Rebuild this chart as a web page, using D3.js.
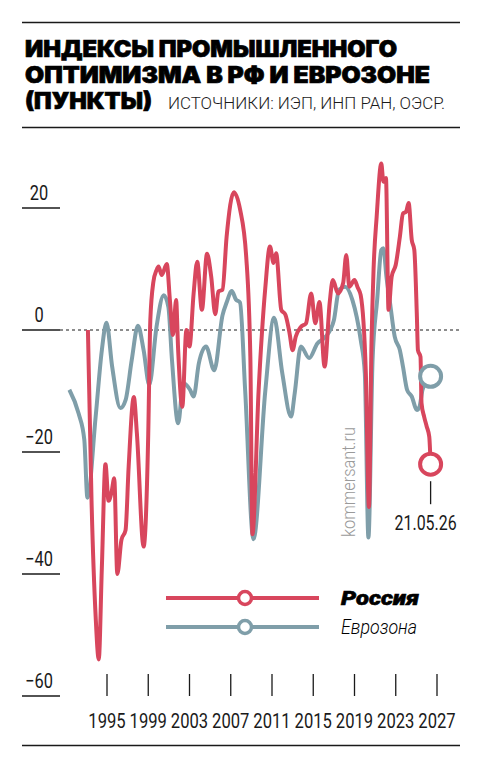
<!DOCTYPE html>
<html>
<head>
<meta charset="utf-8">
<script src="https://cdn.jsdelivr.net/npm/d3@7"></script>
<style>
  html, body { margin: 0; padding: 0; background: #fff; }
  svg { display: block; }
</style>
</head>
<body>
<script>
// [year, points]
var russia = [
  [1993.15, 0], [1993.5, -28], [1993.9, -47], [1994.2, -54], [1994.5, -39],
  [1994.85, -22], [1995.15, -28], [1995.45, -26.5], [1995.7, -24.3], [1996.0, -40],
  [1996.4, -34.4], [1996.8, -32.8], [1997.1, -22.4], [1997.6, -11], [1997.9, -17],
  [1998.55, -35.5], [1999.0, -17], [1999.2, 1.6], [1999.5, 7.9], [1999.8, 9.8],
  [2000.0, 10.4], [2000.3, 9], [2000.8, 10.8], [2001.1, 4.9], [2001.4, -0.8],
  [2001.7, 4.9], [2001.9, -3.3], [2002.3, -12.6], [2002.7, 0], [2003.0, -2.7],
  [2003.4, 6], [2003.75, 11.2], [2004.2, 3.3], [2004.7, 12.5], [2005.1, 8.8],
  [2005.5, 2.6], [2005.8, 6.3], [2006.2, 6.6], [2006.6, 15.3], [2007.3, 22.6],
  [2007.9, 19.8], [2008.5, 12], [2008.9, -4.4], [2009.1, -33.5], [2009.7, -10],
  [2010.35, 6.9], [2010.8, 13.7], [2011.15, 11], [2011.4, 12.6], [2011.9, 3.3],
  [2012.3, 2.5], [2012.7, -0.5], [2013.0, -3.3], [2013.3, -1.1], [2013.8, 0.5],
  [2014.3, 1.1], [2014.8, 6], [2015.2, 1.1], [2015.6, 4.6], [2016.1, -6],
  [2016.6, 4.6], [2016.9, 8.2], [2017.4, 6], [2017.9, 7.7], [2018.2, 12.3],
  [2018.5, 7.1], [2019.0, 8.2], [2019.3, 7], [2019.6, 5.7], [2020.1, -7.1],
  [2020.4, -29], [2020.65, -2], [2020.85, 10], [2021.15, 18.6], [2021.6, 27.3],
  [2021.8, 24.3], [2022.05, 24.9], [2022.3, 3.3], [2022.6, 8.7], [2023.0, 10.7],
  [2023.4, 15.3], [2023.7, 19.1], [2024.0, 19.4], [2024.25, 20.8], [2024.55, 14.8],
  [2024.8, 13.1], [2025.05, 2.2], [2025.15, -3.3], [2025.4, -4.4], [2025.5, -12],
  [2025.75, -14.2], [2026.0, -15.8], [2026.25, -17.5], [2026.38, -22]
];

var eurozone = [
  [1991.35, -9.8], [1992.25, -13.7], [1992.8, -18], [1993.1, -27.5], [1993.9, -14.2],
  [1994.5, -3.3], [1994.95, 1.2], [1995.5, -6], [1996.3, -12.8], [1996.8, -11.5],
  [1997.4, -4.9], [1998.0, 0.7], [1998.55, -3.3], [1999.1, -9], [1999.8, 0.5],
  [2000.5, 5.7], [2000.95, 3.8], [2001.3, -4.9], [2001.9, -15.3], [2002.4, -8.7],
  [2003.05, -9.8], [2003.4, -10.9], [2003.9, -5.5], [2004.6, -2.7], [2005.4, -6.6],
  [2006.2, 2.4], [2006.6, 4.5], [2007.1, 6.4], [2007.5, 5], [2007.9, 4.5],
  [2008.4, -10], [2009.2, -34.3], [2010.35, -10], [2011.2, 2], [2012.0, -7.1],
  [2012.85, -14.2], [2013.2, -10.4], [2013.8, -2.7], [2014.6, -4.6], [2015.4, -2.2],
  [2016.2, -1.1], [2017.0, 1.6], [2017.5, 6.6], [2018.1, 7.1], [2018.8, 4.9],
  [2019.6, -1.6], [2020.0, -7.1], [2020.35, -34], [2020.75, -5], [2021.2, 5],
  [2021.6, 13.1], [2021.8, 13.4], [2022.1, 8.7], [2022.45, 4.4], [2022.9, -1.1],
  [2023.4, -3.3], [2023.7, -6], [2024.1, -9.8], [2024.55, -10.9], [2025.05, -13.1],
  [2025.3, -12.6], [2025.6, -9.8], [2026.38, -7.6]
];

var yTicks = [20, 0, -20, -40, -60];
var xTicks = [1995, 1999, 2003, 2007, 2011, 2015, 2019, 2023, 2027];
var lastDate = "21.05.26";

var titleLines = ["ИНДЕКСЫ ПРОМЫШЛЕННОГО", "ОПТИМИЗМА В РФ И ЕВРОЗОНЕ", "(ПУНКТЫ)"];
var sourceText = "ИСТОЧНИКИ: ИЭП, ИНП РАН, ОЭСР.";
var legendNames = ["Россия", "Еврозона"];

var width = 482, height = 768;
var red = "#d8465d", blue = "#7f9ea9", ink = "#1a1a1a";
var narrow = "Roboto, 'Liberation Sans', sans-serif";

var svg = d3.select("body").append("svg")
  .attr("width", width)
  .attr("height", height);

// header
svg.append("line").attr("x1", 22).attr("x2", 460).attr("y1", 22.5).attr("y2", 22.5)
  .attr("stroke", ink).attr("stroke-width", 1.5);
svg.append("line").attr("x1", 22).attr("x2", 460).attr("y1", 127.5).attr("y2", 127.5)
  .attr("stroke", ink).attr("stroke-width", 1.5);

var titleWidths = [372, 405, 127];
svg.selectAll(".title")
  .data(titleLines)
  .enter().append("text")
  .attr("class", "title")
  .attr("x", 25)
  .attr("y", function (d, i) { return 57 + i * 26; })
  .attr("textLength", function (d, i) { return titleWidths[i]; })
  .attr("lengthAdjust", "spacingAndGlyphs")
  .style("font-family", "Inter, Roboto, 'Liberation Sans', sans-serif")
  .style("font-weight", 900)
  .style("font-size", "22.5px")
  .attr("fill", "#000")
  .attr("stroke", "#000")
  .attr("stroke-width", 0.7)
  .text(function (d) { return d; });

svg.append("text")
  .attr("x", 168)
  .attr("y", 108.5)
  .attr("textLength", 277)
  .attr("lengthAdjust", "spacingAndGlyphs")
  .style("font-family", narrow)
  .style("font-weight", 300)
  .style("font-size", "16px")
  .attr("fill", ink)
  .text(sourceText);

// scales
var x = d3.scaleLinear().domain([1995, 2027]).range([107, 437]);
var y = d3.scaleLinear().domain([-60, 20]).range([696, 208]);

// y axis
var yTick = svg.selectAll(".ytick")
  .data(yTicks)
  .enter().append("g")
  .attr("class", "ytick")
  .attr("transform", function (d) { return "translate(0," + y(d) + ")"; });

yTick.append("line")
  .attr("x1", 22).attr("x2", 60)
  .attr("stroke", ink).attr("stroke-width", 1.3);

yTick.append("text")
  .attr("transform", "translate(39,-8) scale(0.78,1)")
  .attr("text-anchor", "middle")
  .style("font-family", narrow)
  .style("font-size", "21px")
  .attr("fill", ink)
  .text(function (d) { return d < 0 ? "\u2212" + (-d) : d; });

svg.append("line")
  .attr("x1", 60).attr("x2", 459)
  .attr("y1", y(0)).attr("y2", y(0))
  .attr("stroke", ink).attr("stroke-width", 1.2)
  .attr("stroke-dasharray", "3,3");

// x axis
var xTick = svg.selectAll(".xtick")
  .data(xTicks)
  .enter().append("g")
  .attr("class", "xtick")
  .attr("transform", function (d) { return "translate(" + x(d) + ",0)"; });

xTick.append("line")
  .attr("y1", 674).attr("y2", 696)
  .attr("stroke", ink).attr("stroke-width", 1.3);

xTick.append("text")
  .attr("transform", "translate(0,728) scale(0.79,1)")
  .attr("text-anchor", "middle")
  .style("font-family", narrow)
  .style("font-size", "21px")
  .attr("fill", ink)
  .text(function (d) { return d; });

svg.append("line").attr("x1", 22).attr("x2", 460).attr("y1", 745.5).attr("y2", 745.5)
  .attr("stroke", ink).attr("stroke-width", 1.5);

// watermark
svg.append("text")
  .attr("transform", "translate(355,537) rotate(-90)")
  .attr("textLength", 110)
  .attr("lengthAdjust", "spacingAndGlyphs")
  .style("font-family", narrow)
  .style("font-weight", 300)
  .style("font-size", "19px")
  .attr("fill", "#9a9a9a")
  .text("kommersant.ru");

// lines
var line = d3.line()
  .x(function (d) { return x(d[0]); })
  .y(function (d) { return y(d[1]); })
  .curve(d3.curveMonotoneX);

svg.append("path")
  .datum(eurozone)
  .attr("fill", "none")
  .attr("stroke", blue)
  .attr("stroke-width", 4)
  .attr("stroke-linejoin", "round")
  .attr("d", line);

svg.append("path")
  .datum(russia)
  .attr("fill", "none")
  .attr("stroke", red)
  .attr("stroke-width", 4)
  .attr("stroke-linejoin", "round")
  .attr("d", line);

// end markers
var lastRu = russia[russia.length - 1],
    lastEu = eurozone[eurozone.length - 1];

svg.append("circle")
  .attr("cx", x(lastEu[0])).attr("cy", y(lastEu[1])).attr("r", 10.5)
  .attr("fill", "#fff").attr("stroke", blue).attr("stroke-width", 4);

svg.append("circle")
  .attr("cx", x(lastRu[0])).attr("cy", y(lastRu[1])).attr("r", 10.5)
  .attr("fill", "#fff").attr("stroke", red).attr("stroke-width", 4);

svg.append("line")
  .attr("x1", x(lastRu[0])).attr("x2", x(lastRu[0]))
  .attr("y1", y(lastRu[1]) + 17).attr("y2", y(lastRu[1]) + 40)
  .attr("stroke", ink).attr("stroke-width", 1.3);

svg.append("text")
  .attr("x", x(lastRu[0]) - 36)
  .attr("y", 530)
  .attr("textLength", 62)
  .attr("lengthAdjust", "spacingAndGlyphs")
  .style("font-family", narrow)
  .style("font-size", "20px")
  .attr("fill", ink)
  .text(lastDate);

// legend
var legend = svg.selectAll(".legend")
  .data(legendNames)
  .enter().append("g")
  .attr("class", "legend")
  .attr("transform", function (d, i) { return "translate(0," + (598 + i * 29) + ")"; });

legend.append("line")
  .attr("x1", 166).attr("x2", 319)
  .attr("stroke", function (d, i) { return i === 0 ? red : blue; })
  .attr("stroke-width", 4);

legend.append("circle")
  .attr("cx", 245).attr("r", 6.5)
  .attr("fill", "#fff")
  .attr("stroke", function (d, i) { return i === 0 ? red : blue; })
  .attr("stroke-width", 3.5);

legend.append("text")
  .attr("x", 341)
  .attr("y", 7)
  .attr("textLength", function (d, i) { return i === 0 ? 78 : 76; })
  .attr("lengthAdjust", "spacingAndGlyphs")
  .style("font-family", narrow)
  .style("font-size", "20px")
  .style("font-style", "italic")
  .style("font-weight", function (d, i) { return i === 0 ? 900 : 300; })
  .attr("fill", "#000")
  .attr("stroke", function (d, i) { return i === 0 ? "#000" : "none"; })
  .attr("stroke-width", 0.6)
  .text(function (d) { return d; });
</script>
</body>
</html>
